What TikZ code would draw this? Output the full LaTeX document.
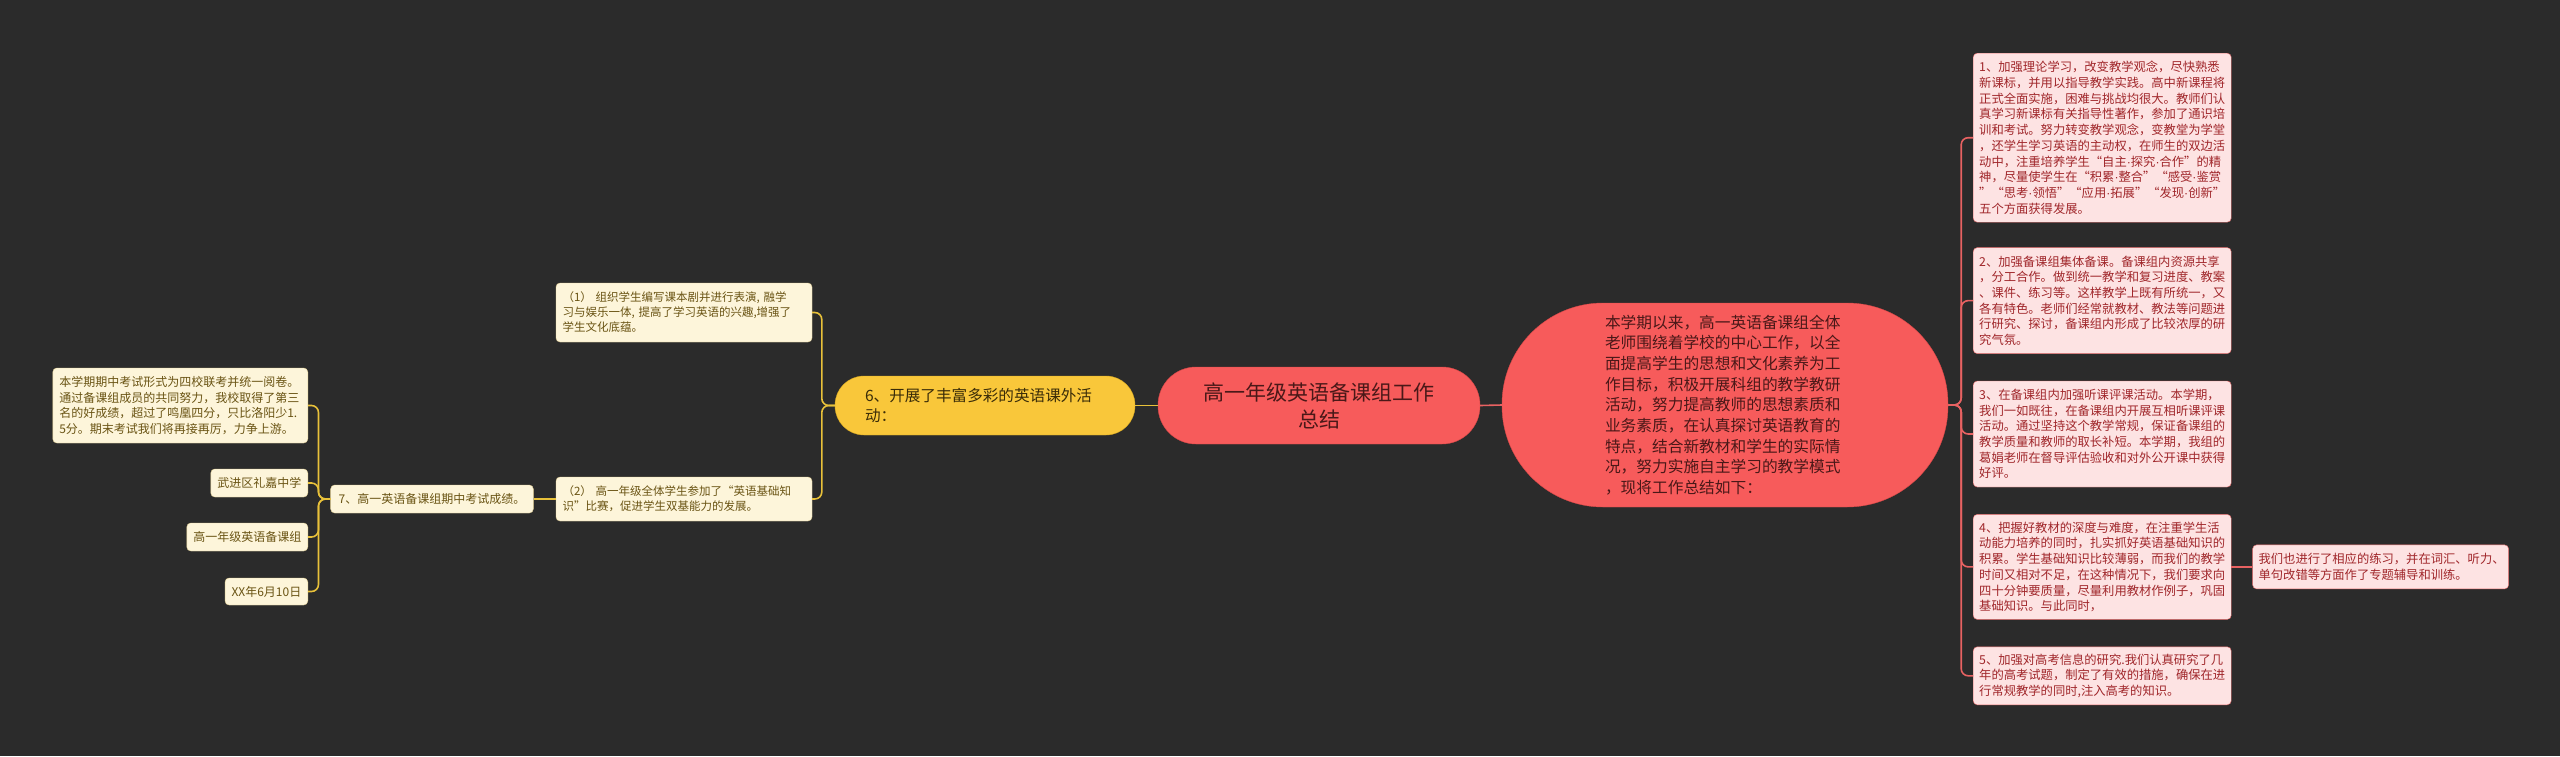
\documentclass[tikz,border=0pt]{standalone}
\usepackage{fontspec}
\setmainfont{Noto Sans CJK SC}
\newfontfamily\dotfont{Liberation Sans}
\newcommand{\zdot}{{\dotfont ·}}
\usepackage{xcolor}
\usetikzlibrary{positioning}

\definecolor{bgcol}{HTML}{2B2B2B}
\definecolor{rootred}{HTML}{F75B5B}
\definecolor{rootline}{HTML}{D94848}
\definecolor{roottext}{HTML}{4A1818}
\definecolor{itemfill}{HTML}{FDE3E3}
\definecolor{itemline}{HTML}{E46A6A}
\definecolor{itemtext}{HTML}{A0262A}
\definecolor{linkred}{HTML}{E86262}
\definecolor{actyellow}{HTML}{F9C73A}
\definecolor{actline}{HTML}{D9A920}
\definecolor{acttext}{HTML}{3A2C08}
\definecolor{notefill}{HTML}{FDF5DA}
\definecolor{noteline}{HTML}{E6D49A}
\definecolor{notetext}{HTML}{6A5414}
\definecolor{linkyellow}{HTML}{E8C13A}

\begin{document}
\begin{tikzpicture}[
    x=1pt, y=-1pt,
    pill/.style={rectangle, draw=rootline, fill=rootred, text=roottext, align=center, inner sep=0pt},
    actpill/.style={rectangle, draw=actline, fill=actyellow, text=acttext, align=left, inner sep=0pt},
    item/.style={rectangle, draw=itemline, fill=itemfill, text=itemtext, rounded corners=4pt, text width=246pt, inner xsep=6pt, inner ysep=6pt, align=left, font=\fontsize{12.3}{15.7}\selectfont},
    note/.style={rectangle, draw=noteline, fill=notefill, text=notetext, rounded corners=4pt, inner xsep=6.5pt, inner ysep=5pt, align=left, font=\fontsize{12}{15.7}\selectfont},
    redlink/.style={draw=linkred, line width=1.6pt, rounded corners=7pt},
    yellowlink/.style={draw=linkyellow, line width=1.6pt, rounded corners=7pt}
]
\path[use as bounding box, fill=bgcol] (0,0) rectangle (2560,756);

% Centre
\node[pill, rounded corners=38pt, minimum width=322pt, minimum height=77pt, font=\fontsize{21}{27}\selectfont] (root) at (1319,405.5) {高一年级英语备课组工作\\总结};

% Right branch
\node[pill, rounded corners=101pt, minimum width=446pt, minimum height=204pt, text width=240pt, align=left, font=\fontsize{15.7}{20.7}\selectfont] (intro) at (1725,405) {本学期以来，高一英语备课组全体\\老师围绕着学校的中心工作，以全\\面提高学生的思想和文化素养为工\\作目标，积极开展科组的教学教研\\活动，努力提高教师的思想素质和\\业务素质，在认真探讨英语教育的\\特点，结合新教材和学生的实际情\\况，努力实施自主学习的教学模式\\，现将工作总结如下：};

\node[item, anchor=north west, minimum height=169pt] (item1) at (1973,53) {1、加强理论学习，改变教学观念，尽快熟悉\\新课标，并用以指导教学实践。高中新课程将\\正式全面实施，困难与挑战均很大。教师们认\\真学习新课标有关指导性著作，参加了通识培\\训和考试。努力转变教学观念，变教堂为学堂\\，还学生学习英语的主动权，在师生的双边活\\动中，注重培养学生“自主\zdot 探究\zdot 合作”的精\\神，尽量使学生在“积累\zdot 整合”“感受\zdot 鉴赏\\”“思考\zdot 领悟”“应用\zdot 拓展”“发现\zdot 创新”\\五个方面获得发展。};
\node[item, below=25pt of item1, minimum height=106pt] (item2) {2、加强备课组集体备课。备课组内资源共享\\，分工合作。做到统一教学和复习进度、教案\\、课件、练习等。这样教学上既有所统一，又\\各有特色。老师们经常就教材、教法等问题进\\行研究、探讨，备课组内形成了比较浓厚的研\\究气氛。};
\node[item, below=27pt of item2, minimum height=106pt] (item3) {3、在备课组内加强听课评课活动。本学期，\\我们一如既往，在备课组内开展互相听课评课\\活动。通过坚持这个教学常规，保证备课组的\\教学质量和教师的取长补短。本学期，我组的\\葛娟老师在督导评估验收和对外公开课中获得\\好评。};
\node[item, below=27pt of item3, minimum height=105pt] (item4) {4、把握好教材的深度与难度，在注重学生活\\动能力培养的同时，扎实抓好英语基础知识的\\积累。学生基础知识比较薄弱，而我们的教学\\时间又相对不足，在这种情况下，我们要求向\\四十分钟要质量，尽量利用教材作例子，巩固\\基础知识。与此同时，};
\node[item, below=27pt of item4, minimum height=58pt] (item5) {5、加强对高考信息的研究.我们认真研究了几\\年的高考试题，制定了有效的措施，确保在进\\行常规教学的同时,注入高考的知识。};
\node[item, right=21pt of item4, text width=244pt, minimum height=44pt] (item4sub) {我们也进行了相应的练习，并在词汇、听力、\\单句改错等方面作了专题辅导和训练。};

% Left branch
\node[actpill, rounded corners=29pt, minimum width=300pt, minimum height=59pt, text width=240pt, font=\fontsize{15.6}{20}\selectfont] (act) at (985,405.5) {6、开展了丰富多彩的英语课外活\\动：};
\node[note, text width=243pt, minimum height=59pt, font=\fontsize{11.5}{15}\selectfont] (act1) at (684,312.5) {（1）~组织学生编写课本剧并进行表演,~融学\\习与娱乐一体,~提高了学习英语的兴趣,增强了\\学生文化底蕴。};
\node[note, text width=243pt, minimum height=44pt, font=\fontsize{11.5}{15}\selectfont] (act2) at (684,499) {（2）~高一年级全体学生参加了“英语基础知\\识”比赛，促进学生双基能力的发展。};

\node[note, inner xsep=8pt, minimum height=28pt] (exam) at (432,499) {7、高一英语备课组期中考试成绩。};
\node[note, text width=242pt, minimum height=75pt, anchor=east] (examnote) at (308,405.5) {本学期期中考试形式为四校联考并统一阅卷。\\通过备课组成员的共同努力，我校取得了第三\\名的好成绩，超过了鸣凰四分，只比洛阳少1.\\5分。期末考试我们将再接再厉，力争上游。};
\node[note, minimum height=28pt, anchor=east] (school) at (308,483) {武进区礼嘉中学};
\node[note, minimum height=28pt, anchor=east] (group) at (308,537) {高一年级英语备课组};
\node[note, minimum height=27pt, anchor=east] (date) at (308,591.5) {XX年6月10日};

% Links
\draw[redlink] (root.east) -- (intro.west);
\draw[redlink] (intro.east) -- ++(13,0) |- (item1.west);
\draw[redlink] (intro.east) -- ++(13,0) |- (item2.west);
\draw[redlink] (intro.east) -- ++(13,0) |- (item3.west);
\draw[redlink] (intro.east) -- ++(13,0) |- (item4.west);
\draw[redlink] (intro.east) -- ++(13,0) |- (item5.west);
\draw[redlink] (item4.east) -- (item4sub.west);

\draw[yellowlink] (root.west) -- (act.east);
\draw[yellowlink] (act.west) -- ++(-13,0) |- (act1.east);
\draw[yellowlink] (act.west) -- ++(-13,0) |- (act2.east);
\draw[yellowlink] (act2.west) -- (exam.east);
\draw[yellowlink] (exam.west) -- ++(-12,0) |- (examnote.east);
\draw[yellowlink] (exam.west) -- ++(-12,0) |- (school.east);
\draw[yellowlink] (exam.west) -- ++(-12,0) |- (group.east);
\draw[yellowlink] (exam.west) -- ++(-12,0) |- (date.east);

\end{tikzpicture}
\end{document}
